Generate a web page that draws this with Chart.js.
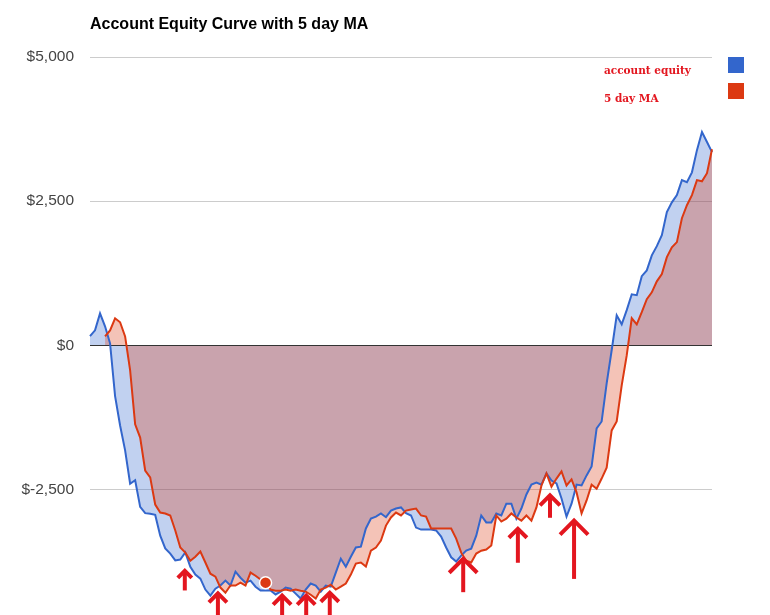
<!DOCTYPE html>
<html>
<head>
<meta charset="utf-8">
<script src="https://cdn.jsdelivr.net/npm/chart.js@4.4.0/dist/chart.umd.min.js"></script>
<style>
  html, body { margin: 0; padding: 0; background: #fff; overflow: hidden; }
  #chart { display: block; width: 770px; height: 659px; }
</style>
</head>
<body>
<canvas id="chart" width="770" height="659"></canvas>
<script>
/* ================= DATA ================= */
const chartTitle = "Account Equity Curve with 5 day MA";
const seriesNames = ["account equity", "5 day MA"];
const yTicks = [-5000, -2500, 0, 2500, 5000];

const equity = [
  160, 260, 555, 330, 35, -880, -1390, -1820, -2400, -2340,
  -2800, -2910, -2920, -2940, -3300, -3520, -3610, -3730, -3715, -3590,
  -3840, -3975, -4045, -4235, -4340, -4220, -4165, -4080, -4165, -3925,
  -4030, -4115, -4080, -4185, -4250, -4250, -4250, -4320, -4270, -4200,
  -4220, -4305, -4390, -4235, -4130, -4165, -4270, -4165, -4185, -3940,
  -3700, -3840, -3665, -3505, -3490, -3175, -3005, -2970, -2915, -2980,
  -2865, -2830, -2810, -2910, -2950, -3160, -3195, -3195, -3195, -3210,
  -3315, -3505, -3675, -3750, -3645, -3560, -3525, -3300, -2950, -3070,
  -3070, -2915, -2950, -2745, -2745, -3005, -2830, -2585, -2415, -2380,
  -2415, -2220, -2345, -2395, -2655, -2970, -2745, -2415, -2430, -2255,
  -2100, -1440, -1320, -660, -85, 520, 365, 610, 885, 870,
  1200, 1300, 1560, 1720, 1910, 2310, 2480, 2605, 2865, 2830,
  3000, 3385, 3700, 3525, 3350
];

const movingAvg = [
  null, null, null, 155, 260, 470, 400, 155, -435, -1370,
  -1600, -2170, -2290, -2760, -2900, -2915, -2950, -3210, -3505, -3595,
  -3735, -3665, -3575, -3765, -3960, -4010, -4200, -4290, -4165, -4165,
  -4115, -4165, -3940, -3995, -4060, -4115, -4235, -4255, -4255, -4235,
  -4255, -4235, -4255, -4270, -4325, -4390, -4235, -4200, -4150, -4235,
  -4185, -4130, -3975, -3785, -3765, -3835, -3560, -3505, -3385, -3125,
  -2985, -2900, -2950, -2865, -2845, -2830, -2950, -2970, -3175, -3175,
  -3175, -3175, -3175, -3350, -3595, -3735, -3765, -3610, -3560, -3540,
  -3470, -2950, -3055, -3005, -2915, -2985, -3040, -2950, -3040, -2810,
  -2430, -2220, -2450, -2310, -2185, -2430, -2325, -2550, -2915, -2690,
  -2415, -2485, -2310, -2120, -1475, -1320, -695, -175, 470, 365,
  575, 800, 920, 1110, 1235, 1530, 1700, 1790, 2205, 2430,
  2605, 2865, 2845, 2985, 3400
];

const days = equity.map((_, i) => i + 1);
const markedIndex = 35;

// hand-drawn arrows: position in day index, tip and tail in dollars
const arrowDay = [18.9, 25.5, 38.3, 43.1, 47.8, 74.4, 85.3, 91.7, 96.5];
const arrowTip = [-3910, -4300, -4340, -4340, -4290, -3700, -3180, -2600, -3040];
const arrowTail = [-4250, -5000, -5000, -5000, -5000, -4280, -3770, -2990, -4050];

/* ================= STYLE ================= */
const BLUE = "#3366cc";
const RED = "#dc3912";
const ANNOT = "#e3161f";
const arrowHead = [7, 9, 9, 9, 9, 14, 9, 10, 14];

const money = v => (v < 0 ? "$-" : "$") + Math.abs(v).toLocaleString("en-US");

/* ================= PLUGIN ================= */
const decorations = {
  id: "decorations",
  beforeDatasetsDraw(chart) {
    const { ctx, chartArea, scales } = chart;
    const y0 = Math.round(scales.y.getPixelForValue(0)) + 0.5;
    ctx.save();
    ctx.strokeStyle = "#333";
    ctx.lineWidth = 1;
    ctx.beginPath();
    ctx.moveTo(chartArea.left, y0);
    ctx.lineTo(chartArea.right, y0);
    ctx.stroke();
    ctx.restore();
  },
  afterDraw(chart) {
    const { ctx, chartArea, scales } = chart;
    ctx.save();

    /* TITLE */
    ctx.fillStyle = "#000";
    ctx.font = "bold 16px 'Liberation Sans', Arial, sans-serif";
    ctx.textBaseline = "alphabetic";
    ctx.textAlign = "left";
    ctx.fillText(chartTitle, chartArea.left, 29);

    /* LEGEND */
    const colors = [BLUE, RED];
    colors.forEach((c, i) => {
      ctx.fillStyle = c;
      ctx.fillRect(728, 57 + i * 26, 16, 16);
    });
    ctx.fillStyle = ANNOT;
    ctx.font = "bold 10.5px 'DejaVu Serif', serif";
    seriesNames.forEach((name, i) => {
      ctx.fillText(name, 604, 74 + i * 28);
    });

    /* ARROWS */
    ctx.strokeStyle = ANNOT;
    ctx.lineWidth = 4;
    ctx.lineJoin = "miter";
    arrowDay.forEach((d, i) => {
      const x = scales.x.getPixelForValue(d);
      const tip = scales.y.getPixelForValue(arrowTip[i]);
      const tail = scales.y.getPixelForValue(arrowTail[i]);
      const h = arrowHead[i];
      ctx.beginPath();
      ctx.moveTo(x, tip + 2);
      ctx.lineTo(x, tail);
      ctx.stroke();
      ctx.beginPath();
      ctx.moveTo(x - h, tip + h);
      ctx.lineTo(x, tip);
      ctx.lineTo(x + h, tip + h);
      ctx.stroke();
    });

    ctx.restore();
  }
};

/* ================= CHART ================= */
new Chart(document.getElementById("chart"), {
  type: "line",
  data: {
    labels: days,
    datasets: [
      {
        label: seriesNames[0],
        data: equity,
        borderColor: BLUE,
        backgroundColor: "rgba(51,102,204,0.3)",
        borderWidth: 2,
        fill: "origin",
        pointRadius: 0,
        tension: 0,
        order: 1
      },
      {
        label: seriesNames[1],
        data: movingAvg,
        borderColor: RED,
        backgroundColor: "rgba(220,57,18,0.3)",
        borderWidth: 2,
        fill: "origin",
        pointRadius: movingAvg.map((_, i) => (i === markedIndex ? 6 : 0)),
        pointBackgroundColor: RED,
        pointBorderColor: "#fff",
        pointBorderWidth: 1.5,
        tension: 0,
        order: 0
      }
    ]
  },
  options: {
    responsive: false,
    animation: false,
    layout: { padding: { top: 57, right: 58, bottom: 7, left: 0 } },
    plugins: {
      legend: { display: false },
      title: { display: false },
      tooltip: { enabled: false },
      filler: { drawTime: "beforeDatasetsDraw" }
    },
    scales: {
      x: { display: false, offset: false },
      y: {
        min: yTicks[0],
        max: yTicks[yTicks.length - 1],
        afterFit(scale) { scale.width = 90; },
        afterBuildTicks(scale) { scale.ticks = yTicks.map(v => ({ value: v })); },
        border: { display: false },
        grid: {
          drawTicks: false,
          color: c => (c.tick && c.tick.value === 0 ? "rgba(0,0,0,0)" : "#cccccc")
        },
        ticks: {
          padding: 16,
          color: "#444",
          font: { family: "'Liberation Sans', Arial, sans-serif", size: 15.5 },
          callback: v => money(v)
        }
      }
    }
  },
  plugins: [decorations]
});
</script>
</body>
</html>
